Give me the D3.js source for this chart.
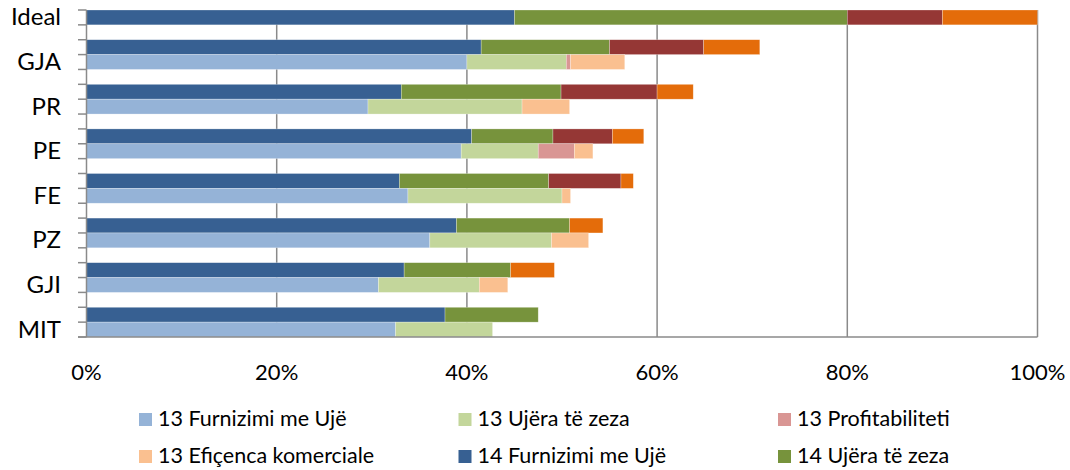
<!DOCTYPE html>
<html>
<head>
<meta charset="utf-8">
<script src="https://cdn.jsdelivr.net/npm/d3@7"></script>
<style>
  body { margin: 0; background: #fff; }
  svg { display: block; font-family: Lato, "Open Sans", sans-serif; }
</style>
</head>
<body>
<svg width="1070" height="470"></svg>
<script>
// categories (top to bottom)
var categories = ["Ideal", "GJA", "PR", "PE", "FE", "PZ", "GJI", "MIT"];

// 2014 values (%) - Ideal only has this row
var furn14   = [45, 41.5, 33.1, 40.5, 32.9, 38.9, 33.4, 37.7];
var ujera14  = [35, 13.5, 16.8, 8.55, 15.7, 11.9, 11.2, 9.8];
var profit14 = [10, 9.9, 10.1, 6.25, 7.6, 0, 0, 0];
var efic14   = [10, 5.9, 3.8, 3.3, 1.3, 3.5, 4.6, 0];

// 2013 values (%)
var furn13   = [null, 40.0, 29.6, 39.4, 33.8, 36.1, 30.7, 32.5];
var ujera13  = [null, 10.45, 16.2, 8.1, 16.2, 12.8, 10.6, 10.2];
var profit13 = [null, 0.45, 0, 3.8, 0, 0, 0, 0];
var efic13   = [null, 5.7, 5.0, 1.95, 0.9, 3.9, 3.0, 0];

var xTicks = [0, 20, 40, 60, 80, 100];

var legendNames = ["13 Furnizimi me Ujë", "13 Ujëra të zeza", "13 Profitabiliteti",
                   "13 Efiçenca komerciale", "14 Furnizimi me Ujë", "14 Ujëra të zeza"];

var colors13 = ["#95b3d7", "#c3d69b", "#d99694", "#fac090"];
var colors14 = ["#376092", "#77933c", "#953735", "#e46c0a"];

var svg = d3.select("svg");

var x = d3.scaleLinear().domain([0, 100]).range([86.5, 1037.5]);

// rows: Ideal, gap, then (14, 13, gap) for each other category
var rows = ["Ideal|14", "gap0"];
categories.slice(1).forEach(function(c, i) {
  if (i > 0) rows.push("gap" + i);
  rows.push(c + "|14");
  rows.push(c + "|13");
});
var y = d3.scaleBand().domain(rows).range([10, 337]).padding(0);

// gridlines
svg.append("g")
  .selectAll("line")
  .data(xTicks.slice(1))
  .enter().append("line")
    .attr("x1", function(d) { return x(d); })
    .attr("x2", function(d) { return x(d); })
    .attr("y1", 10)
    .attr("y2", 337)
    .attr("stroke", "#8a8a8a")
    .attr("stroke-width", 1.5);

// bars
var barData = [];
categories.forEach(function(c, i) {
  var sets = [["14", [furn14[i], ujera14[i], profit14[i], efic14[i]], colors14]];
  if (furn13[i] !== null) sets.push(["13", [furn13[i], ujera13[i], profit13[i], efic13[i]], colors13]);
  sets.forEach(function(s) {
    var acc = 0;
    s[1].forEach(function(v, k) {
      if (v > 0) barData.push({ row: c + "|" + s[0], x0: acc, x1: acc + v, color: s[2][k] });
      acc += v;
    });
  });
});

svg.append("g")
  .selectAll("rect")
  .data(barData)
  .enter().append("rect")
    .attr("x", function(d) { return x(d.x0); })
    .attr("width", function(d) { return x(d.x1) - x(d.x0); })
    .attr("y", function(d) { return y(d.row); })
    .attr("height", y.bandwidth())
    .attr("fill", function(d) { return d.color; })
    .attr("stroke", "rgba(255,255,255,0.45)")
    .attr("stroke-width", 0.6);

// left axis with ticks at each row boundary
var axisG = svg.append("g").attr("stroke", "#8a8a8a").attr("stroke-width", 1.5);
axisG.append("line").attr("x1", x(0)).attr("x2", x(0)).attr("y1", 10).attr("y2", 337);
axisG.append("line").attr("x1", 78).attr("x2", x(100)).attr("y1", 337).attr("y2", 337);
var bounds = rows.map(function(r) { return y(r); }).concat([337]);
axisG.selectAll("line.tk")
  .data(bounds)
  .enter().append("line")
    .attr("class", "tk")
    .attr("x1", 78).attr("x2", x(0))
    .attr("y1", function(d) { return d; })
    .attr("y2", function(d) { return d; });

// category labels
svg.append("g")
  .selectAll("text")
  .data(categories)
  .enter().append("text")
    .attr("x", 61)
    .attr("y", function(c) {
      var r = c === "Ideal" ? "Ideal|14" : c + "|13";
      return y(r) + y.bandwidth() / 2 + 8;
    })
    .attr("text-anchor", "end")
    .attr("font-size", 24)
    .attr("fill", "#000")
    .text(function(c) { return c; });

// x tick labels
svg.append("g")
  .selectAll("text")
  .data(xTicks)
  .enter().append("text")
    .attr("x", function(d) { return x(d); })
    .attr("y", 380)
    .attr("text-anchor", "middle")
    .attr("font-size", 22)
    .attr("fill", "#000")
    .text(function(d) { return d + "%"; });

// legend
var legendColors = [colors13[0], colors13[1], colors13[2], colors13[3], colors14[0], colors14[1]];
var legend = svg.append("g")
  .selectAll("g")
  .data(legendNames)
  .enter().append("g")
    .attr("transform", function(d, i) {
      return "translate(" + (139 + (i % 3) * 319.5) + "," + (i < 3 ? 426 : 463) + ")";
    });
legend.append("rect")
  .attr("x", 0).attr("y", -13)
  .attr("width", 13).attr("height", 13)
  .attr("fill", function(d, i) { return legendColors[i]; });
legend.append("text")
  .attr("x", 19)
  .attr("y", 0)
  .attr("font-size", 21.5)
  .attr("fill", "#000")
  .text(function(d) { return d; });
</script>
</body>
</html>
